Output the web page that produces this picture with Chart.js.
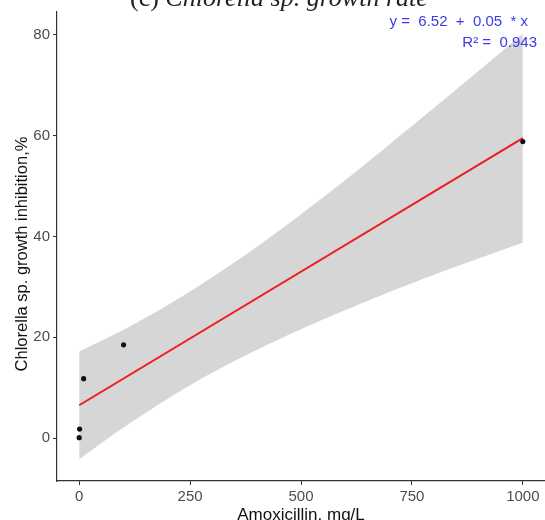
<!DOCTYPE html>
<html>
<head>
<meta charset="utf-8">
<script src="https://cdn.jsdelivr.net/npm/chart.js@4/dist/chart.umd.min.js"></script>
<style>
  body { margin: 0; width: 545px; height: 520px; overflow: hidden; background: #fff; position: relative; }
  #chart { position: absolute; left: 0; top: 0; }
  .title { position: absolute; left: 130px; top: -15px; font: 26px/26px "Liberation Serif", serif; color: #222; white-space: pre; }
  .title i { font-style: italic; }
  .eq { position: absolute; font: 15px/15px "Liberation Sans", Arial, sans-serif; color: #3a3ae6; white-space: pre; text-align: right; }
</style>
</head>
<body>
<canvas id="chart" width="545" height="530"></canvas>
<div class="title">(c) <i>Chlorella sp. growth rate</i></div>
<div class="eq" style="right:17px; top:13px;">y =  6.52  +  0.05  * x</div>
<div class="eq" style="right:8px; top:34px;">R² =  0.943</div>
<script>
// Measured points (amoxicillin dose vs inhibition)
const doseX = [0, 1, 10, 100, 1000];
const inhibition = [0.1, 1.8, 11.8, 18.5, 58.8];

// Fitted line ends
const fitX = [0, 1000];
const fitY = [6.52, 59.5];

// Confidence band
const bandX = [0, 100, 200, 300, 400, 500, 600, 700, 800, 900, 1000];
const bandUpper = [17.2, 21.5, 26.4, 31.9, 37.9, 44.4, 51.2, 58.3, 65.5, 72.8, 80.2];
const bandLower = [-4.2, 2.1, 7.8, 13.0, 17.5, 21.6, 25.4, 29.0, 32.4, 35.6, 38.8];

// Axis ticks
const xTicks = [0, 250, 500, 750, 1000];
const yTicks = [0, 20, 40, 60, 80];
const yTitle = "Chlorella sp. growth inhibition,%";

const toXY = (xs, ys) => xs.map((x, i) => ({ x: x, y: ys[i] }));

const axisColor = "#333333";
const tickColor = "#4d4d4d";

// y axis title drawn by hand so it sits where the reference has it
const yTitlePlugin = {
  id: "yTitle",
  afterDraw(chart) {
    const ctx = chart.ctx;
    ctx.save();
    ctx.translate(22, 254);
    ctx.rotate(-Math.PI / 2);
    ctx.font = "16.5px 'Liberation Sans'";
    ctx.fillStyle = "#111111";
    ctx.textAlign = "center";
    ctx.textBaseline = "middle";
    ctx.fillText(yTitle, 0, 0);
    ctx.restore();
  },
};

new Chart(document.getElementById("chart").getContext("2d"), {
  type: "scatter",
  data: {
    datasets: [
      {
        label: "points",
        data: toXY(doseX, inhibition),
        backgroundColor: "#111111",
        borderWidth: 0,
        pointRadius: 2.6,
      },
      {
        label: "fit",
        type: "line",
        data: toXY(fitX, fitY),
        borderColor: "#ee1c1c",
        borderWidth: 2,
        pointRadius: 0,
        fill: false,
      },
      {
        label: "upper",
        type: "line",
        data: toXY(bandX, bandUpper),
        borderWidth: 0,
        pointRadius: 0,
        tension: 0.3,
        backgroundColor: "#d6d6d6",
        fill: "+1",
      },
      {
        label: "lower",
        type: "line",
        data: toXY(bandX, bandLower),
        borderWidth: 0,
        pointRadius: 0,
        tension: 0.3,
        fill: false,
      },
    ],
  },
  options: {
    responsive: false,
    animation: false,
    layout: { autoPadding: false, padding: { top: 10, right: 0, bottom: 0, left: 0 } },
    plugins: { legend: { display: false }, tooltip: { enabled: false } },
    scales: {
      x: {
        type: "linear",
        min: -50,
        max: 1050,
        afterBuildTicks: (axis) => { axis.ticks = xTicks.map((v) => ({ value: v })); },
        afterFit: (axis) => {
          axis.height = 49;
          axis.paddingLeft = 0;
          axis.paddingRight = 0;
        },
        grid: { drawOnChartArea: false, drawTicks: true, tickLength: 4, color: axisColor },
        border: { display: true, color: axisColor, width: 1.2 },
        ticks: {
          color: tickColor,
          padding: 3,
          font: { family: "Liberation Sans", size: 15 },
          callback: (v) => String(v),
        },
        title: {
          display: true,
          text: "Amoxicillin, mg/L",
          color: "#111111",
          padding: { top: 2, bottom: 4 },
          font: { family: "Liberation Sans", size: 17 },
        },
      },
      y: {
        type: "linear",
        min: -8.5,
        max: 84.5,
        afterBuildTicks: (axis) => { axis.ticks = yTicks.map((v) => ({ value: v })); },
        afterFit: (axis) => { axis.width = 57; },
        grid: { drawOnChartArea: false, drawTicks: true, tickLength: 4, color: axisColor },
        border: { display: true, color: axisColor, width: 1.2 },
        ticks: { color: tickColor, padding: 3, font: { family: "Liberation Sans", size: 15 } },
      },
    },
  },
  plugins: [yTitlePlugin],
});
</script>
</body>
</html>
